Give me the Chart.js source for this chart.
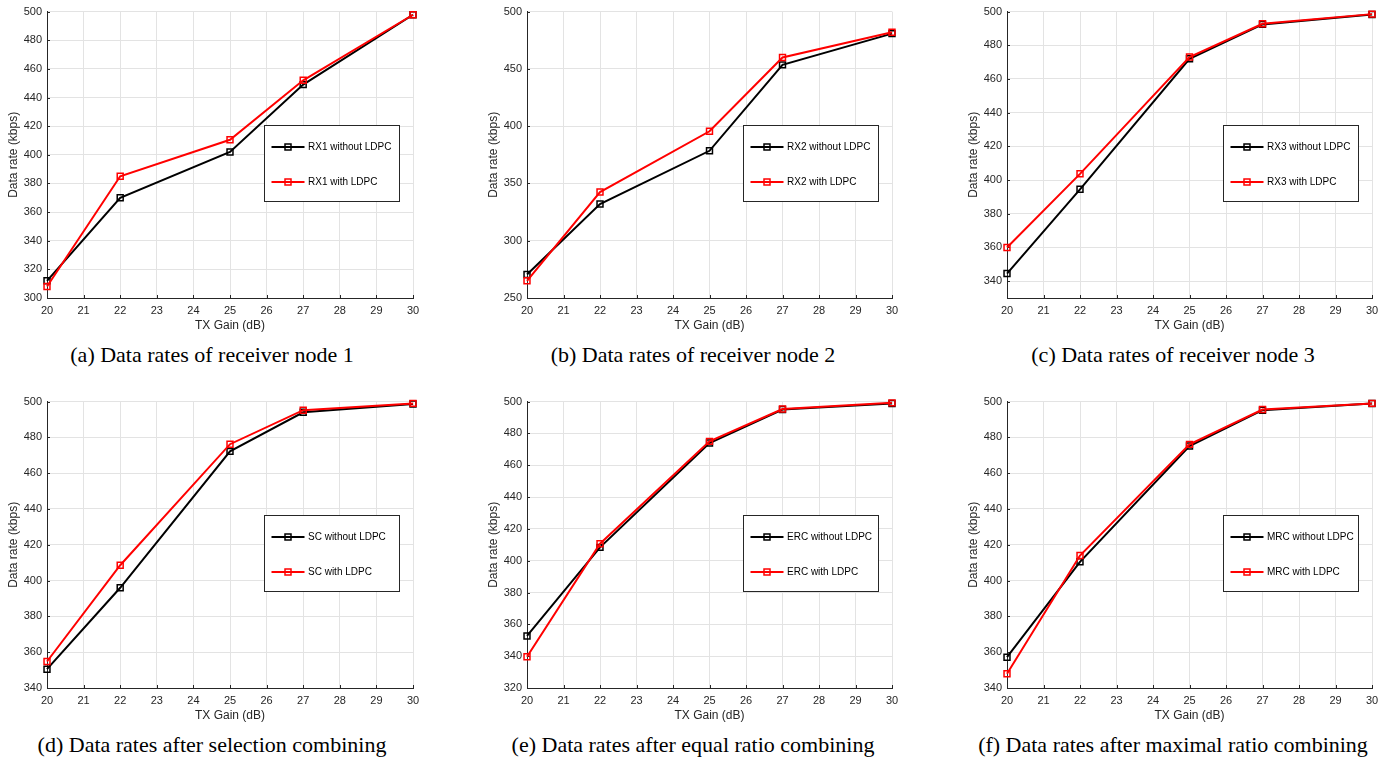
<!DOCTYPE html>
<html>
<head>
<meta charset="utf-8">
<title>Data rates</title>
<script src="https://cdn.jsdelivr.net/npm/chart.js@4.4.1/dist/chart.umd.min.js"></script>
<style>
  body { margin: 0; background: #fff; width: 1390px; height: 760px; position: relative; overflow: hidden; }
  canvas { position: absolute; }
  .caption {
    position: absolute; width: 480px; text-align: center; white-space: nowrap;
    font-family: "Liberation Serif", "Times New Roman", serif; font-size: 22px; line-height: 24px; color: #000;
  }
</style>
</head>
<body>
<script>
// TX gain settings that were measured (dB)
var gains = [20, 22, 25, 27, 30];
var xTicks = [20, 21, 22, 23, 24, 25, 26, 27, 28, 29, 30];

// data rates in kbps, without / with LDPC
var rx1Plain = [312, 370, 402, 449, 497.8];
var rx1Ldpc  = [308, 385, 410.5, 452, 497.8];
var rx2Plain = [270.5, 332, 378.5, 453.5, 480.8];
var rx2Ldpc  = [265, 342.5, 395.5, 460, 482];
var rx3Plain = [344.5, 394.5, 472, 492.4, 498.3];
var rx3Ldpc  = [360, 403.7, 473, 492.8, 498.5];
var scPlain  = [350.5, 396, 472.2, 494, 498.7];
var scLdpc   = [354.8, 408.6, 476.2, 495.2, 499];
var ercPlain = [352.7, 408.4, 474, 495, 498.8];
var ercLdpc  = [339.6, 410.7, 475, 495.3, 499.2];
var mrcPlain = [357.2, 410.5, 475.2, 495.2, 498.9];
var mrcLdpc  = [348, 414, 476.1, 495.6, 499];

// y axis ticks of each panel
var ticksA = [300, 320, 340, 360, 380, 400, 420, 440, 460, 480, 500];
var ticksB = [250, 300, 350, 400, 450, 500];
var ticksC = [340, 360, 380, 400, 420, 440, 460, 480, 500];
var ticksD = [340, 360, 380, 400, 420, 440, 460, 480, 500];
var ticksE = [320, 340, 360, 380, 400, 420, 440, 460, 480, 500];
var ticksF = [340, 360, 380, 400, 420, 440, 460, 480, 500];

var panels = [
  { name: 'RX1', plain: rx1Plain, ldpc: rx1Ldpc, yMin: 300, ticks: ticksA, caption: '(a) Data rates of receiver node 1' },
  { name: 'RX2', plain: rx2Plain, ldpc: rx2Ldpc, yMin: 250, ticks: ticksB, caption: '(b) Data rates of receiver node 2' },
  { name: 'RX3', plain: rx3Plain, ldpc: rx3Ldpc, yMin: 330, ticks: ticksC, caption: '(c) Data rates of receiver node 3' },
  { name: 'SC',  plain: scPlain,  ldpc: scLdpc,  yMin: 340, ticks: ticksD, caption: '(d) Data rates after selection combining' },
  { name: 'ERC', plain: ercPlain, ldpc: ercLdpc, yMin: 320, ticks: ticksE, caption: '(e) Data rates after equal ratio combining' },
  { name: 'MRC', plain: mrcPlain, ldpc: mrcLdpc, yMin: 340, ticks: ticksF, caption: '(f) Data rates after maximal ratio combining' }
];

// plot area boxes on the page: columns and rows
var colLeft = [47, 527, 1007], colRight = [413, 892, 1372];
var rowTop = [11, 401], rowBottom = [298, 688];
var capCenterX = [212, 693, 1173], capCenterY = [355, 745];

var AXIS = '#262626';
var FONT = '"Liberation Sans", Arial, Helvetica, sans-serif';
Chart.defaults.font.family = FONT;
Chart.defaults.color = AXIS;

// boxed legend in the right middle of the plot area
var boxLegend = {
  id: 'boxLegend',
  afterDatasetsDraw: function(chart) {
    var a = chart.chartArea, ctx = chart.ctx;
    var w = 135, h = 76;
    var x0 = Math.round(a.right - 14.5 - w) + 0.5, y0 = Math.round(a.top + 113) + 0.5;
    ctx.save();
    ctx.fillStyle = '#fff';
    ctx.fillRect(x0, y0, w, h);
    ctx.strokeStyle = AXIS;
    ctx.lineWidth = 1;
    ctx.strokeRect(x0, y0, w, h);
    ctx.font = '10px ' + FONT;
    ctx.textBaseline = 'middle';
    chart.data.datasets.forEach(function(ds, i) {
      var y = Math.round(y0 + 21 + i * 35);
      ctx.strokeStyle = ds.borderColor;
      ctx.lineWidth = 2;
      ctx.beginPath();
      ctx.moveTo(x0 + 7, y);
      ctx.lineTo(x0 + 40, y);
      ctx.stroke();
      ctx.lineWidth = 1.5;
      ctx.strokeRect(x0 + 20.5, y - 3, 6, 6);
      ctx.fillStyle = '#000';
      ctx.fillText(ds.label, x0 + 43.5, y + 0.5);
    });
    ctx.restore();
  }
};

// short tick marks pointing into the plot area
var innerTicks = {
  id: 'innerTicks',
  beforeDatasetsDraw: function(chart) {
    var a = chart.chartArea, ctx = chart.ctx;
    var xs = chart.scales.x, ys = chart.scales.y;
    ctx.save();
    ctx.strokeStyle = AXIS;
    ctx.lineWidth = 1;
    ctx.beginPath();
    xs.ticks.forEach(function(t) {
      var px = Math.round(xs.getPixelForValue(t.value)) + 0.5;
      ctx.moveTo(px, a.bottom);
      ctx.lineTo(px, a.bottom - 3);
    });
    ys.ticks.forEach(function(t) {
      var py = Math.round(ys.getPixelForValue(t.value)) + 0.5;
      ctx.moveTo(a.left, py);
      ctx.lineTo(a.left + 3, py);
    });
    ctx.stroke();
    ctx.restore();
  }
};

function series(label, values, color, order) {
  return {
    label: label,
    data: gains.map(function(g, i) { return { x: g, y: values[i] }; }),
    borderColor: color,
    backgroundColor: 'rgba(0,0,0,0)',
    borderWidth: 2,
    pointStyle: 'rect',
    pointRadius: 4.2,
    pointBorderWidth: 1.5,
    pointBorderColor: color,
    pointBackgroundColor: 'rgba(0,0,0,0)',
    tension: 0,
    clip: false,
    order: order
  };
}

panels.forEach(function(p, k) {
  var col = k % 3, row = Math.floor(k / 3);
  var yAxisW = 47, padRight = 18, padTop = 11, xAxisH = 38;
  var left = colLeft[col] - yAxisW;
  var top = rowTop[row] - padTop;
  var width = colRight[col] - colLeft[col] + yAxisW + padRight;
  var height = rowBottom[row] - top + xAxisH;

  var cv = document.createElement('canvas');
  cv.width = width;
  cv.height = height;
  cv.style.left = left + 'px';
  cv.style.top = top + 'px';
  document.body.appendChild(cv);

  var cap = document.createElement('div');
  cap.className = 'caption';
  cap.textContent = p.caption;
  cap.style.left = (capCenterX[col] - 240) + 'px';
  cap.style.top = (capCenterY[row] - 12) + 'px';
  document.body.appendChild(cap);

  var yTicks = p.ticks;
  new Chart(cv.getContext('2d'), {
    type: 'line',
    data: {
      datasets: [
        series(p.name + ' without LDPC', p.plain, '#000000', 1),
        series(p.name + ' with LDPC', p.ldpc, '#ff0000', 0)
      ]
    },
    options: {
      responsive: false,
      animation: false,
      layout: { padding: { left: 0, right: padRight, top: padTop, bottom: 0 } },
      plugins: { legend: { display: false }, tooltip: { enabled: false } },
      scales: {
        x: {
          type: 'linear',
          min: 20,
          max: 30,
          afterBuildTicks: function(s) { s.ticks = xTicks.map(function(v) { return { value: v }; }); },
          afterFit: function(s) { s.height = xAxisH; },
          ticks: { font: { size: 11 }, color: AXIS, padding: 6, maxRotation: 0, autoSkip: false },
          grid: { color: '#e3e3e3', lineWidth: 1, drawTicks: false },
          border: { color: AXIS, width: 1 },
          title: { display: true, text: 'TX Gain (dB)', font: { size: 12 }, color: AXIS, padding: { top: 0, bottom: 3 } }
        },
        y: {
          min: p.yMin,
          max: 500,
          afterBuildTicks: function(s) { s.ticks = yTicks.map(function(v) { return { value: v }; }); },
          afterFit: function(s) { s.width = yAxisW; },
          ticks: { font: { size: 11 }, color: AXIS, padding: 5, autoSkip: false },
          grid: { color: '#e3e3e3', lineWidth: 1, drawTicks: false },
          border: { color: AXIS, width: 1 },
          title: { display: true, text: 'Data rate (kbps)', font: { size: 12 }, color: AXIS, padding: { top: 6.3, bottom: 0 } }
        }
      }
    },
    plugins: [innerTicks, boxLegend]
  });
});
</script>
</body>
</html>
